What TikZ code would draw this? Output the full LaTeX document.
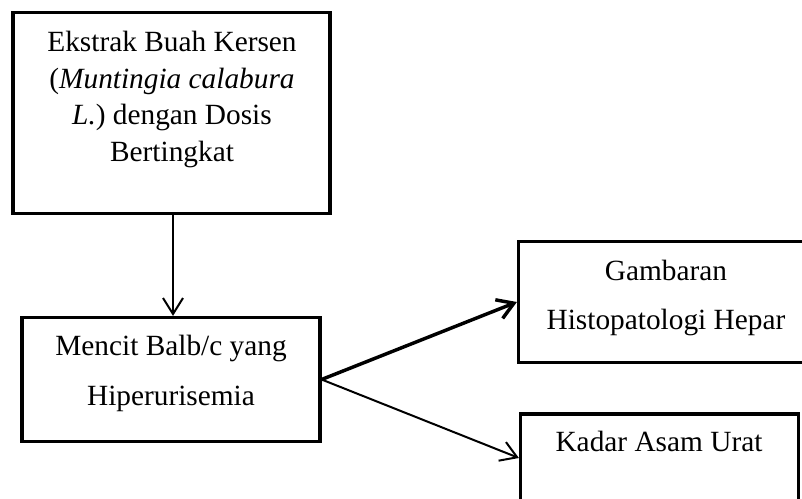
\documentclass[tikz,border=0pt]{standalone}
\usepackage{fontspec}
\setmainfont{Liberation Serif}
\usetikzlibrary{arrows.meta,fit}
\begin{document}
\begin{tikzpicture}[x=0.75pt,y=-0.75pt,
  boxst/.style={draw,line width=2.4pt,inner sep=0pt,rectangle},
  txt/.style={anchor=base,inner sep=0pt,font=\fontsize{22}{26}\selectfont},
  arr/.style={-{Straight Barb[length=12pt,width=15pt]},line width=1.5pt}]
\useasboundingbox (0,0) rectangle (802,499);
\clip (0,0) rectangle (802,499);
\fill[white] (0,0) rectangle (802,499);
% boxes
\node[boxst,fit={(13,12.5) (330,213.5)}] (b1) {};
\node[boxst,fit={(22,317.5) (320,441.5)}] (b2) {};
\node[boxst,fit={(518.5,241.5) (815,362.5)}] (b3) {};
\node[boxst,fit={(520.5,414) (798.5,502)}] (b4) {};
% texts
\node[txt] (t1a) at (172,52) {Ekstrak Buah Kersen};
\node[txt] (t1b) at (172,88.3) {(\textit{Muntingia calabura}};
\node[txt] (t1c) at (172,125) {\textit{L.}) dengan Dosis};
\node[txt] (t1d) at (172,161.7) {Bertingkat};
\node[txt] (t2a) at (171,355) {Mencit Balb/c yang};
\node[txt] (t2b) at (171,405.5) {Hiperurisemia};
\node[txt] (t3a) at (666,280) {Gambaran};
\node[txt] (t3b) at (666,329.3) {Histopatologi Hepar};
\node[txt] (t4a) at (659,451.7) {Kadar Asam Urat};
% connectors
\draw[arr] (b1.south -| 173,0) -- (b2.north -| 173,0);
\draw[arr,line width=2.6pt] (b2.east) -- (b3.west);
\draw[arr] (b2.east) -- (b4.west);
\end{tikzpicture}
\end{document}
